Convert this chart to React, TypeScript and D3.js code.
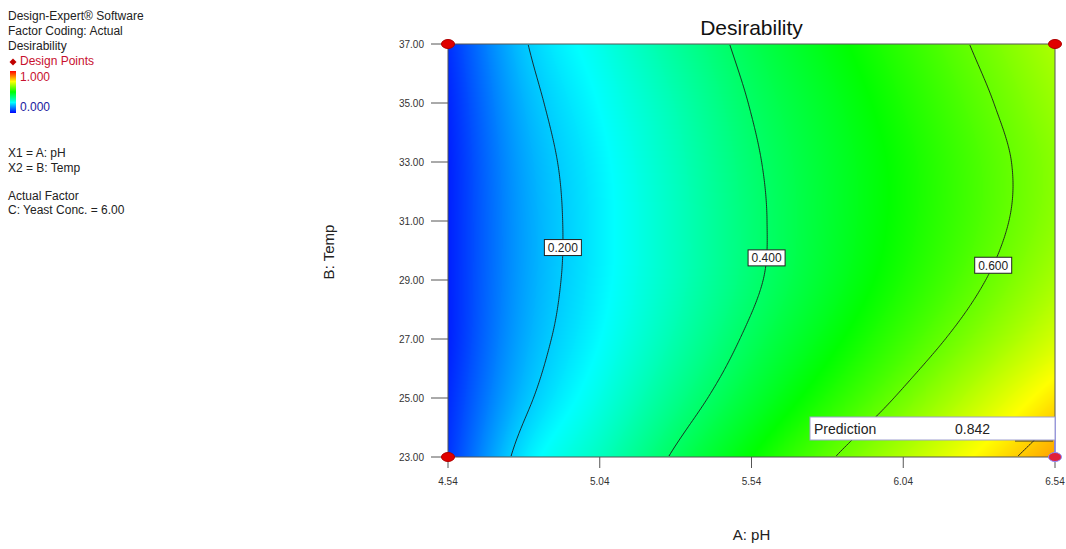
import React, { useMemo } from 'react';
import * as d3 from 'd3';

// ---------- data ----------
const phTicks = [4.54, 5.04, 5.54, 6.04, 6.54];
const tempTicks = [23, 25, 27, 29, 31, 33, 35, 37];
const gridPH = [4.54, 4.79, 5.04, 5.29, 5.54, 5.79, 6.04, 6.29, 6.54];
const gridTemp = [23, 25, 27, 29, 31, 33, 35, 37];
// desirability estimated on the grid (rows: temperature ascending, cols: pH ascending)
const desirability = [
  [0.05, 0.225, 0.313, 0.409, 0.5, 0.591, 0.675, 0.758, 0.842], // 23
  [0.04, 0.186, 0.275, 0.364, 0.448, 0.529, 0.61, 0.692, 0.775], // 25
  [0.03, 0.166, 0.249, 0.331, 0.412, 0.485, 0.559, 0.633, 0.708], // 27
  [0.03, 0.158, 0.237, 0.313, 0.389, 0.458, 0.526, 0.594, 0.664], // 29
  [0.03, 0.157, 0.235, 0.311, 0.386, 0.451, 0.513, 0.575, 0.639], // 31
  [0.03, 0.162, 0.239, 0.315, 0.391, 0.453, 0.513, 0.574, 0.635], // 33
  [0.035, 0.175, 0.252, 0.327, 0.403, 0.464, 0.526, 0.588, 0.65], // 35
  [0.045, 0.194, 0.271, 0.348, 0.42, 0.483, 0.545, 0.608, 0.67], // 37
];
const contourLevels = [0.2, 0.4, 0.6, 0.8];
const labelLevels = [0.2, 0.4, 0.6];
const labelTemps = [30.1, 29.75, 29.5];
const designPH = [4.54, 6.54, 4.54, 6.54];
const designTemp = [37, 37, 23, 23];
const predictionPH = 6.54;
const predictionTemp = 23;
const predictionValue = 0.842;
const legendLines = ['Design-Expert® Software', 'Factor Coding: Actual', 'Desirability'];
const factorLines = ['X1 = A: pH', 'X2 = B: Temp'];
const actualLines = ['Actual Factor', 'C: Yeast Conc. = 6.00'];

const colorStops = ['#0000ff', '#00ffff', '#00ff00', '#ffff00', '#ff0000'];
const colorScale = d3.scaleLinear<string>().domain([0, 0.25, 0.5, 0.75, 1]).range(colorStops).clamp(true);

const FONT = 'Liberation Sans, Arial, sans-serif';

function cr(p0: number, p1: number, p2: number, p3: number, t: number) {
  return 0.5 * (2 * p1 + (-p0 + p2) * t + (2 * p0 - 5 * p1 + 4 * p2 - p3) * t * t + (-p0 + 3 * p1 - 3 * p2 + p3) * t * t * t);
}
const nx = gridPH.length, ny = gridTemp.length;
function g(i: number, j: number): number {
  if (i < 0) return 2 * g(0, j) - g(1, j);
  if (i > nx - 1) return 2 * g(nx - 1, j) - g(nx - 2, j);
  if (j < 0) return 2 * g(i, 0) - g(i, 1);
  if (j > ny - 1) return 2 * g(i, ny - 1) - g(i, ny - 2);
  return desirability[j][i];
}
const uScale = d3.scaleLinear().domain([gridPH[0], gridPH[nx - 1]]).range([0, nx - 1]);
const vScale = d3.scaleLinear().domain([gridTemp[0], gridTemp[ny - 1]]).range([0, ny - 1]);
function field(pH: number, T: number) {
  const u = Math.max(0, Math.min(nx - 1, uScale(pH)));
  const v = Math.max(0, Math.min(ny - 1, vScale(T)));
  const i = Math.min(Math.floor(u), nx - 2), j = Math.min(Math.floor(v), ny - 2);
  const tu = u - i, tv = v - j;
  const rows = [-1, 0, 1, 2].map((dj) => cr(g(i - 1, j + dj), g(i, j + dj), g(i + 1, j + dj), g(i + 2, j + dj), tu));
  return cr(rows[0], rows[1], rows[2], rows[3], tv);
}

export default function App() {
  const W = 1066, H = 549;
  const x = d3.scaleLinear().domain([4.54, 6.54]).range([448, 1055]);
  const y = d3.scaleLinear().domain([23, 37]).range([457, 44]);
  const [x0, x1] = x.range();
  const [y1, y0] = y.range();
  const pw = x1 - x0, ph = y1 - y0;

  const imgUrl = useMemo(() => {
    const c = document.createElement('canvas');
    c.width = pw; c.height = ph;
    const ctx = c.getContext('2d')!;
    const img = ctx.createImageData(pw, ph);
    const lut: number[][] = [];
    for (let k = 0; k <= 1000; k++) {
      const col = d3.rgb(colorScale(k / 1000));
      lut.push([col.r, col.g, col.b]);
    }
    for (let j = 0; j < ph; j++) {
      const T = y.invert(y0 + j + 0.5);
      for (let i = 0; i < pw; i++) {
        const p = x.invert(x0 + i + 0.5);
        const v = Math.max(0, Math.min(1, field(p, T)));
        const cc = lut[Math.round(v * 1000)];
        const o = (j * pw + i) * 4;
        img.data[o] = cc[0]; img.data[o + 1] = cc[1]; img.data[o + 2] = cc[2]; img.data[o + 3] = 255;
      }
    }
    ctx.putImageData(img, 0, 0);
    return c.toDataURL();
  }, []);

  const contourPaths = useMemo(() => {
    const n = Math.round(pw / 2), m = Math.round(ph / 2);
    const sx = pw / n, sy = ph / m;
    const vals = new Array(n * m);
    for (let j = 0; j < m; j++) {
      const T = y.invert(y0 + (j + 0.5) * sy);
      for (let i = 0; i < n; i++) vals[j * n + i] = field(x.invert(x0 + (i + 0.5) * sx), T);
    }
    const cs = d3.contours().size([n, m]).thresholds(contourLevels)(vals);
    const path = d3.geoPath(
      d3.geoTransform({
        point(px: number, py: number) {
          (this as any).stream.point(x0 + px * sx, y0 + py * sy);
        },
      })
    );
    return cs.map((c) => path(c as any) || '');
  }, []);

  const labels = labelLevels.map((L, k) => {
    const T = labelTemps[k];
    let lo = 4.54, hi = 6.54;
    for (let it = 0; it < 40; it++) {
      const mid = (lo + hi) / 2;
      if (field(mid, T) < L) lo = mid; else hi = mid;
    }
    return { L, cx: x(lo), cy: y(T) };
  });

  const px = x(predictionPH), py = y(predictionTemp);

  return (
    <svg width={W} height={H} style={{ position: 'absolute', left: 0, top: 0, background: '#fff' }} fontFamily={FONT}>
      <defs>
        <clipPath id="plotClip">
          <rect x={x0 + 1} y={y0 + 1} width={pw - 2} height={ph - 2} />
        </clipPath>
        <linearGradient id="cbar" x1="0" y1="1" x2="0" y2="0">
          {colorStops.map((c, i) => (
            <stop key={i} offset={`${i * 25}%`} stopColor={c} />
          ))}
        </linearGradient>
      </defs>

      {/* legend */}
      {legendLines.map((t, i) => (
        <text key={t} x={8} y={20 + i * 15} fontSize={12} fill="#222">{t}</text>
      ))}
      <path d="M13,58.5 L16.5,62 L13,65.5 L9.5,62 Z" fill="#c00000" />
      <text x={20} y={65} fontSize={12} fill="#c8102e">Design Points</text>
      <rect x={10} y={71} width={6} height={42} fill="url(#cbar)" />
      <text x={20} y={81} fontSize={12} fill="#c8102e">1.000</text>
      <text x={20} y={111} fontSize={12} fill="#2020a0">0.000</text>
      {factorLines.map((t, i) => (
        <text key={t} x={8} y={157 + i * 15} fontSize={12} fill="#222">{t}</text>
      ))}
      {actualLines.map((t, i) => (
        <text key={t} x={8} y={200 + i * 14} fontSize={12} fill="#222">{t}</text>
      ))}

      {/* title */}
      <text x={(x0 + x1) / 2} y={35} fontSize={21} textAnchor="middle" fill="#111">Desirability</text>

      {/* heat map */}
      <image href={imgUrl} x={x0} y={y0} width={pw} height={ph} preserveAspectRatio="none" />

      {/* contours */}
      <g clipPath="url(#plotClip)">
        {contourPaths.map((d, i) => (
          <path key={i} d={d} fill="none" stroke="#1a1a1a" strokeWidth={0.9} />
        ))}
      </g>

      {/* contour labels */}
      {labels.map((l) => (
        <g key={l.L}>
          <rect x={l.cx - 18.5} y={l.cy - 8} width={37} height={16} fill="#fff" stroke="#222" strokeWidth={1} />
          <text x={l.cx} y={l.cy + 4.5} fontSize={12} textAnchor="middle" fill="#222">{l.L.toFixed(3)}</text>
        </g>
      ))}

      {/* frame */}
      <rect x={x0} y={y0} width={pw} height={ph} fill="none" stroke="#555" strokeWidth={1} />

      {/* y axis */}
      {tempTicks.map((t) => (
        <g key={t}>
          <line x1={x0 - 17} x2={x0} y1={y(t)} y2={y(t)} stroke="#555" />
          <text x={x0 - 24} y={y(t) + 3.5} fontSize={10} textAnchor="end" fill="#333">{t.toFixed(2)}</text>
        </g>
      ))}
      {/* x axis */}
      {phTicks.map((t) => (
        <g key={t}>
          <line x1={x(t)} x2={x(t)} y1={y0 + ph} y2={y0 + ph + 11} stroke="#555" />
          <text x={x(t)} y={485} fontSize={10} textAnchor="middle" fill="#333">{t.toFixed(2)}</text>
        </g>
      ))}
      <text x={(x0 + x1) / 2} y={540} fontSize={15} textAnchor="middle" fill="#222">A: pH</text>
      <text transform={`translate(334,252) rotate(-90)`} fontSize={15} textAnchor="middle" fill="#222">B: Temp</text>

      {/* prediction flag */}
      <line x1={px} x2={px} y1={py - 40} y2={py} stroke="#8a8aff" strokeWidth={1.5} />
      <line x1={px - 40} x2={px - 2} y1={py - 16} y2={py - 16} stroke="#333" strokeWidth={1} />
      <rect x={px - 245} y={py - 40} width={245} height={23} fill="#fff" stroke="#a0a0d0" strokeWidth={1} />
      <text x={px - 241} y={py - 23} fontSize={14} fill="#222">Prediction</text>
      <text x={px - 100} y={py - 23} fontSize={14} fill="#222">{predictionValue.toFixed(3)}</text>

      {/* design points */}
      {designPH.map((p, i) => {
        const sel = p === predictionPH && designTemp[i] === predictionTemp;
        return (
          <ellipse key={i} cx={x(p)} cy={y(designTemp[i])} rx={6.5} ry={4.5}
            fill={sel ? '#e0203a' : '#e00000'} stroke={sel ? '#8a8aff' : '#b00000'} strokeWidth={1} />
        );
      })}
    </svg>
  );
}
